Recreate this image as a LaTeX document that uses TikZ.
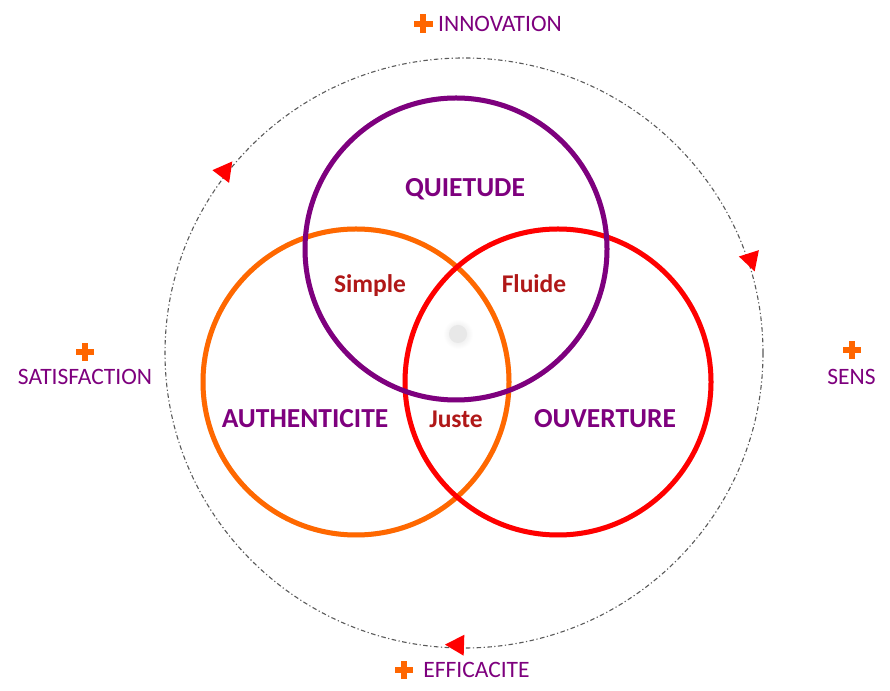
\documentclass[tikz,border=0pt]{standalone}
\usepackage{fontspec}
\setmainfont{Carlito}
\definecolor{vpurple}{RGB}{126,0,126}
\definecolor{vorange}{RGB}{255,104,0}
\definecolor{vred}{RGB}{255,0,0}
\definecolor{tred}{RGB}{176,24,24}
\definecolor{pluscol}{RGB}{255,102,0}
\definecolor{dashgray}{RGB}{90,90,90}
\begin{document}
\begin{tikzpicture}[x=1pt,y=1pt,
  ring/.style={line width=5pt},
  shadowring/.style={line width=5pt, draw=black, opacity=0.10},
  outerlabel/.style={font=\fontsize{23.5}{27}\selectfont, text=vpurple, anchor=base, inner sep=0pt},
  circlelabel/.style={font=\bfseries\fontsize{27.5}{31}\selectfont, text=vpurple, anchor=base, inner sep=0pt},
  zonelabel/.style={font=\bfseries\fontsize{25.5}{30}\selectfont, text=tred, anchor=base, inner sep=0pt},
  arrowtip/.style={fill=vred},
  plussign/.pic={\fill[pluscol] (-9.5,-3.3) rectangle (9.5,3.3); \fill[pluscol] (-3.3,-9.5) rectangle (3.3,9.5);}
]
\useasboundingbox (0,0) rectangle (890,690);
\fill[white] (0,0) rectangle (890,690);

% centres
\coordinate (cBig) at (464,337);
\coordinate (cP) at (456,441);
\coordinate (cO) at (356,308);
\coordinate (cR) at (558,308);

% outer dash-dot cycle
\draw[dashgray, line width=1.1pt, dash pattern=on 4.5pt off 2.5pt on 1.2pt off 2.5pt]
  (cBig) ellipse [x radius=299, y radius=295];

% arrowheads (clockwise)
\foreach \px/\py/\ang in {225/519/52.6, 751/430/-72.4, 457/45/178.2}{
  \fill[arrowtip, shift={(\px,\py)}, rotate=\ang] (12,0) -- (-7,10.5) -- (-7,-10.5) -- cycle;
}

% centre dot
\shade[inner color=black!12, outer color=white] (458,356) circle (15);
\fill[black!9] (458,356) circle (9);

% Venn circles
\draw[shadowring, shift={(1.2,-2)}] (cO) circle (153);
\draw[ring, vorange] (cO) circle (153);
\draw[shadowring, shift={(1.2,-2)}] (cR) circle (153);
\draw[ring, vred] (cR) circle (153);
\draw[shadowring, shift={(1.2,-2)}] (cP) circle (151);
\draw[ring, vpurple] (cP) circle (151);

% circle labels
\node[circlelabel] (quietude) at (465,493) {QUIETUDE};
\node[circlelabel] (authenticite) at (305,262) {AUTHENTICITE};
\node[circlelabel] (ouverture) at (605,262) {OUVERTURE};
\node[zonelabel] (simple) at (370,397) {Simple};
\node[zonelabel] (fluide) at (534,397) {Fluide};
\node[zonelabel] (juste) at (456,262) {Juste};

% outer labels
\pic at (423,666) {plussign};
\node[outerlabel] (innovation) at (500,658) {INNOVATION};
\pic[scale=0.9] at (85,338) {plussign};
\node[outerlabel] (satisfaction) at (85,305) {SATISFACTION};
\pic[scale=0.9] at (852,340) {plussign};
\node[outerlabel] (sens) at (851.5,305) {SENS};
\pic[scale=0.9] at (404,20) {plussign};
\node[outerlabel] (efficacite) at (476.5,13) {EFFICACITE};
\end{tikzpicture}
\end{document}
